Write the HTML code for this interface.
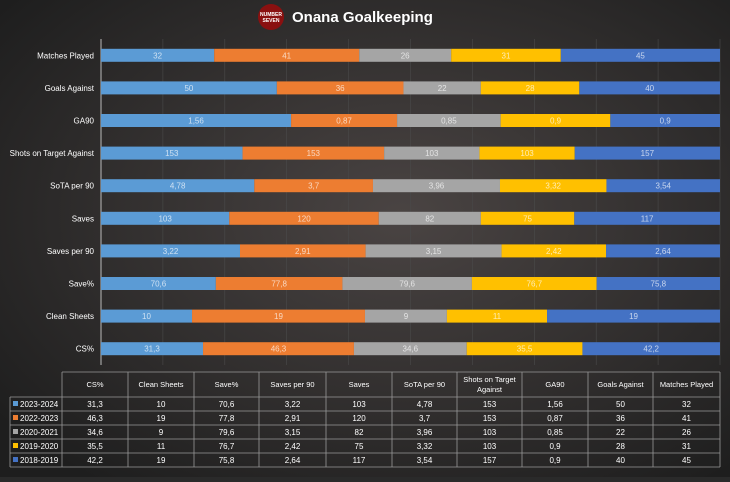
<!DOCTYPE html>
<html><head><meta charset="utf-8"><style>
body{margin:0;width:730px;height:477px;overflow:hidden;background:#2a2a2a;font-family:"Liberation Sans",sans-serif}
</style></head><body>
<svg id="c" width="730" height="477" xmlns="http://www.w3.org/2000/svg">
<defs><radialGradient id="bg" cx="0.55" cy="0.45" r="0.7"><stop offset="0" stop-color="#4a4443"/><stop offset="1" stop-color="#1e1e1e"/></radialGradient></defs>
<rect width="730" height="477" fill="url(#bg)"/>
<circle cx="271" cy="17" r="13" fill="#8a1010"/>
<text x="271" y="16" font-size="5" fill="#fff" text-anchor="middle" font-weight="bold">NUMBER</text>
<text x="271" y="22" font-size="5" fill="#fff" text-anchor="middle" font-weight="bold">SEVEN</text>
<text x="292" y="22" font-size="15" fill="#fff" font-weight="bold">Onana Goalkeeping</text>
<g id="plot"></g>
<g id="table"></g>
</svg>
<script>
const categories=["Matches Played","Goals Against","GA90","Shots on Target Against","SoTA per 90","Saves","Saves per 90","Save%","Clean Sheets","CS%"];
const seriesNames=["2023-2024","2022-2023","2020-2021","2019-2020","2018-2019"];
const colors=["#5b9bd5","#ed7d31","#a5a5a5","#ffc000","#4472c4"];
const s2324=[32,50,1.56,153,4.78,103,3.22,70.6,10,31.3];
const s2223=[41,36,0.87,153,3.7,120,2.91,77.8,19,46.3];
const s2021=[26,22,0.85,103,3.96,82,3.15,79.6,9,34.6];
const s1920=[31,28,0.9,103,3.32,75,2.42,76.7,11,35.5];
const s1819=[45,40,0.9,157,3.54,117,2.64,75.8,19,42.2];
const series=[s2324,s2223,s2021,s1920,s1819];
const NS="http://www.w3.org/2000/svg";
const X0=101,X1=720,Y0=39,Y1=365;
const xs=p=>X0+p*(X1-X0);
const band=(Y1-Y0)/categories.length;
const yc=i=>Y0+band*(i+0.5);
const fmt=v=>String(v).replace('.',',');
function mk(tag,attrs,parent){const e=document.createElementNS(NS,tag);for(const k in attrs)e.setAttribute(k,attrs[k]);parent.appendChild(e);return e;}
const plot=document.getElementById('plot');
for(let t=1;t<=10;t++){const g=mk('line',{x1:xs(t/10),x2:xs(t/10),y1:Y0,y2:Y1,stroke:'#4a4a4a',"stroke-width":0.6},plot);

}
const ax=mk('line',{x1:X0,x2:X0,y1:Y0,y2:Y1,stroke:'#bbb',"stroke-width":1},plot);


categories.forEach((c,i)=>{
 const lb=mk('text',{x:X0-7,y:yc(i)+3,"font-size":8,fill:'#fff',"text-anchor":'end'},plot);lb.textContent=c;
 
 
 let tot=0;series.forEach(s=>tot+=s[i]);
 let acc=0;
 series.forEach((s,k)=>{
  const a=xs(acc/tot),b=xs((acc+s[i])/tot);acc+=s[i];
  const r=mk('rect',{x:a,y:yc(i)-6.5,width:b-a,height:13,fill:colors[k]},plot);
  
  
  const t=mk('text',{x:(a+b)/2,y:yc(i)+3,"font-size":8,fill:'#fff',"fill-opacity":0.7,"text-anchor":'middle'},plot);t.textContent=fmt(s[i]);
  
  
 });
});
const tb=document.getElementById('table');
const cols=categories.slice().reverse();
const colX=[10,62,128,194,259,326,392,457,522,588,653,720];
const rowY=[372,397,411,425,439,453,467];
const lc='#999';
for(let r=0;r<rowY.length;r++){const x0=r===0?62:10;const l=mk('line',{x1:x0,x2:720,y1:rowY[r],y2:rowY[r],stroke:lc,"stroke-width":0.8},tb);

}
colX.forEach((x,j)=>{const l=mk('line',{x1:x,x2:x,y1:j===0?397:372,y2:467,stroke:lc,"stroke-width":0.8},tb);

});
cols.forEach((c,j)=>{const cx=(colX[j+1]+colX[j+2])/2;
 if(c==="Shots on Target Against"){
  const t1=mk('text',{x:cx,y:382,"font-size":7.5,fill:'#fff',"text-anchor":'middle'},tb);t1.textContent="Shots on Target";
  
  
  const t2=mk('text',{x:cx,y:392,"font-size":7.5,fill:'#fff',"text-anchor":'middle'},tb);t2.textContent="Against";
  
  
 }else{const t=mk('text',{x:cx,y:387,"font-size":7.5,fill:'#fff',"text-anchor":'middle'},tb);t.textContent=c;
  
  }
});
seriesNames.forEach((n,k)=>{
 const y=rowY[k+1]+10;
 const sw=mk('rect',{x:13,y:y-6,width:5,height:5,fill:colors[k]},tb);
 
 
 const t=mk('text',{x:20,y:y,"font-size":8,fill:'#fff'},tb);t.textContent=n;
 
 
 cols.forEach((c,j)=>{const ci=categories.indexOf(c);const cx=(colX[j+1]+colX[j+2])/2;
  const v=mk('text',{x:cx,y:y,"font-size":8,fill:'#fff',"text-anchor":'middle'},tb);v.textContent=fmt(series[k][ci]);
  
  });
});
</script>
</body></html>
